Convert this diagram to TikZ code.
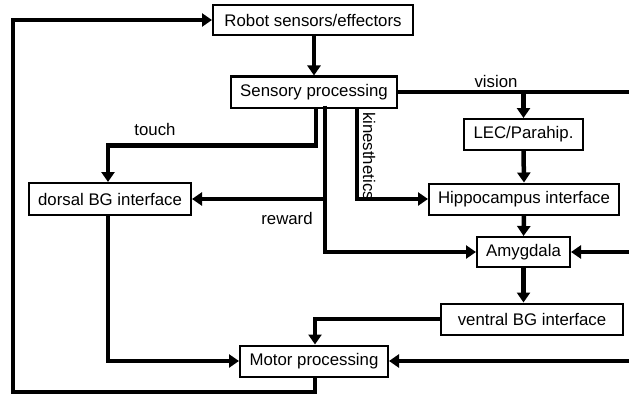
\documentclass[tikz,border=0pt]{standalone}
\usepackage{fontspec}
\setmainfont{Liberation Sans}
\usetikzlibrary{arrows.meta}
\begin{document}
\begin{tikzpicture}[x=1pt,y=-1pt,
  box/.style={draw,line width=2pt,inner sep=0pt,fill=white,
    font=\fontsize{16.8}{19}\selectfont},
  wire/.style={line width=4.5pt},
  feed/.style={wire,-{Triangle[length=10pt,width=13pt]}},
  lbl/.style={inner sep=0pt,font=\fontsize{16.8}{19}\selectfont}]
\useasboundingbox (0,0) rectangle (629,396);

% processing stages
\node[box,minimum width=200pt,minimum height=30pt] (robot)   at (313,20)    {Robot sensors/effectors};
\node[box,minimum width=166pt,minimum height=31pt] (sens)    at (314,92)    {Sensory processing};
\node[box,minimum width=119pt,minimum height=31pt] (lec)     at (523.5,134.5) {LEC/Parahip.};
\node[box,minimum width=190pt,minimum height=31pt] (hip)     at (524,199)   {Hippocampus interface};
\node[box,minimum width=162pt,minimum height=32pt] (dorsal)  at (110,199)   {dorsal BG interface};
\node[box,minimum width=93pt, minimum height=30pt] (amyg)    at (523.5,252) {Amygdala};
\node[box,minimum width=182pt,minimum height=31pt] (ventral) at (532,319)   {ventral BG interface};
\node[box,minimum width=148pt,minimum height=31pt] (motor)   at (314,361)   {Motor processing};

% free ends and taps
\coordinate (vout) at (629,92);
\coordinate (ain)  at (629,252);
\coordinate (min)  at (629,361);
\coordinate (lp)   at (13,392);
\coordinate (tch)  at ([xshift=2pt]sens.south);
\coordinate (rw)   at ([xshift=11pt,yshift=3pt]sens.south);
\coordinate (kn)   at ([xshift=43pt]sens.south);

% main flow
\draw[feed] (robot.south -| sens.north) -- (sens.north);
\draw[wire] (sens.east) -- (vout);
\draw[feed] (sens.east -| lec.north) -- (lec.north);
\draw[feed] (lec.south) -- (hip.north);
\draw[feed] (hip.south) -- (amyg.north);
\draw[feed] (amyg.south) -- (amyg.south |- ventral.north);
\draw[feed] (ain) -- (amyg.east);
\draw[feed] (min) -- (motor.east);

% sensory branches
\draw[feed] (tch) -- ++(0,37) -| ([xshift=-2pt]dorsal.north);
\draw[feed] (rw) |- (amyg.west);
\draw[feed] (rw |- dorsal.east) -- (dorsal.east);
\draw[feed] (kn) |- (hip.west);

% motor side
\draw[feed] (ventral.west) -| ([xshift=1pt]motor.north);
\draw[feed] ([xshift=-2pt]dorsal.south) |- (motor.west);
\draw[feed] ([xshift=1pt]motor.south) |- (lp) |- (robot.west);

% channel labels
\node[lbl] (touch)  at (155,129) {touch};
\node[lbl] (reward) at (287,218) {reward};
\node[lbl] (vision) at (496,81)  {vision};
\node[lbl,rotate=-90] (kin) at (369,156) {kinesthetics};
\end{tikzpicture}
\end{document}
